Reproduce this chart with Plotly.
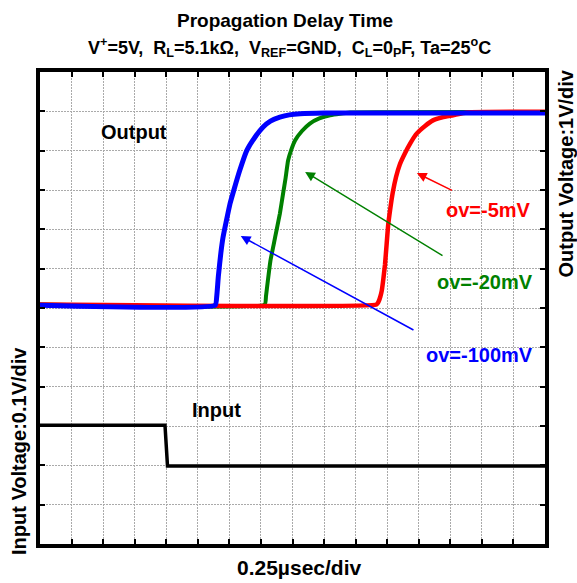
import plotly.graph_objects as go

# Time axis in horizontal divisions (16 columns), voltage axis in vertical divisions (12 rows)
out_100_t = [0, 5.55, 5.6, 5.65, 5.73, 5.8, 5.9, 6.02, 6.15, 6.33, 6.55, 6.8,
             7.07, 7.3, 7.6, 7.9, 8.24, 9.0, 16]
out_100_v = [6.07, 6.07, 6.3, 6.8, 7.4, 7.8, 8.2, 8.65, 9.02, 9.5, 10.0, 10.33,
             10.6, 10.75, 10.85, 10.91, 10.94, 10.96, 10.96]

out_20_t = [0, 7.12, 7.16, 7.22, 7.3, 7.4, 7.5, 7.6, 7.7, 7.78, 7.86, 7.96,
            8.08, 8.3, 8.55, 8.85, 9.19, 9.5, 9.82, 16]
out_20_v = [6.09, 6.09, 6.3, 6.7, 7.2, 7.6, 8.0, 8.4, 8.9, 9.3, 9.75, 10.02,
            10.26, 10.5, 10.69, 10.82, 10.9, 10.94, 10.97, 10.98]

out_5_t = [0, 10.66, 10.72, 10.78, 10.83, 10.88, 10.93, 10.98, 11.03, 11.09,
           11.18, 11.28, 11.4, 11.56, 11.74, 11.94, 12.2, 12.45, 12.75, 13.09,
           13.53, 16]
out_5_v = [6.09, 6.09, 6.15, 6.28, 6.45, 6.75, 7.1, 7.6, 8.1, 8.48,
           8.95, 9.33, 9.65, 9.93, 10.2, 10.44, 10.63, 10.77, 10.85, 10.9,
           10.97, 10.99]

in_t = [0, 3.96, 4.04, 10.6, 10.8, 11.6, 12.0, 16]
in_v = [3.02, 3.02, 1.98, 1.98, 2.0, 2.0, 1.98, 1.98]

title = "Propagation Delay Time"
subtitle = ("V<sup>+</sup>=5V,  R<sub>L</sub>=5.1kΩ,  V<sub>REF</sub>=GND,  "
            "C<sub>L</sub>=0<sub>P</sub>F, Ta=25<sup>o</sup>C")

FONT = "Liberation Sans, Arial, sans-serif"
RED, GREEN, BLUE = "#ff0000", "#008000", "#0000ff"

fig = go.Figure()
fig.add_trace(go.Scatter(x=in_t, y=in_v, mode="lines",
                         line=dict(color="black", width=3.5)))
fig.add_trace(go.Scatter(x=out_20_t, y=out_20_v, mode="lines",
                         line=dict(color=GREEN, width=4, shape="spline", smoothing=0.4)))
fig.add_trace(go.Scatter(x=out_5_t, y=out_5_v, mode="lines",
                         line=dict(color=RED, width=4.5, shape="spline", smoothing=0.4)))
fig.add_trace(go.Scatter(x=out_100_t, y=out_100_v, mode="lines",
                         line=dict(color=BLUE, width=5, shape="spline", smoothing=0.4)))

axis_common = dict(
    showgrid=True, gridcolor="#aaaaaa", gridwidth=1, griddash="2px,1px",
    showline=True, linecolor="black", linewidth=4, mirror="ticks",
    ticks="inside", ticklen=5, tickcolor="black", tickwidth=1.5,
    showticklabels=False, zeroline=False, dtick=1, fixedrange=True,
)

fig.update_layout(
    width=577, height=583,
    margin=dict(l=40, r=32, t=72, b=39),
    paper_bgcolor="white", plot_bgcolor="white",
    showlegend=False,
    font=dict(family=FONT, color="black"),
    xaxis=dict(range=[0, 16], **axis_common),
    yaxis=dict(range=[0, 12], **axis_common),
)

bold = dict(family=FONT, weight="bold")

# Titles and axis captions (paper coordinates)
paper_text = [
    (title, 0.4851, 1.110, 0, 19),
    (subtitle, 0.494, 1.051, 0, 18),
    ("0.25µsec/div", 0.514, -0.049, 0, 21),
    ("Input Voltage:0.1V/div", -0.0416, 0.197, -90, 20),
    ("Output Voltage:1V/div", 1.0435, 0.785, -90, 20),
]
for txt, x, y, ang, size in paper_text:
    fig.add_annotation(text=txt, x=x, y=y, xref="paper", yref="paper",
                       showarrow=False, textangle=ang,
                       xanchor="center", yanchor="middle",
                       font=dict(size=size, color="black", **bold))

# Labels inside the plot
labels = [
    ("Output", 2.98, 10.47, "black"),
    ("Input", 5.6, 3.41, "black"),
    ("ov=-5mV", 14.21, 8.49, RED),
    ("ov=-20mV", 14.1, 6.67, GREEN),
    ("ov=-100mV", 13.94, 4.8, BLUE),
]
for txt, x, y, c in labels:
    fig.add_annotation(text=txt, x=x, y=y, showarrow=False,
                       xanchor="center", yanchor="middle",
                       font=dict(size=20, color=c, **bold))

# Pointer arrows: (head x, head y, tail x, tail y, colour)
arrows = [
    (11.94, 9.43, 13.10, 8.97, RED),
    (8.40, 9.46, 12.80, 7.31, GREEN),
    (6.36, 7.83, 11.88, 5.42, BLUE),
]
for hx, hy, tx, ty, c in arrows:
    fig.add_annotation(x=hx, y=hy, ax=tx, ay=ty, axref="x", ayref="y",
                       text="", showarrow=True, arrowhead=2, arrowsize=1.3,
                       arrowwidth=1.5, arrowcolor=c, standoff=0)

fig.write_html("out.html")
